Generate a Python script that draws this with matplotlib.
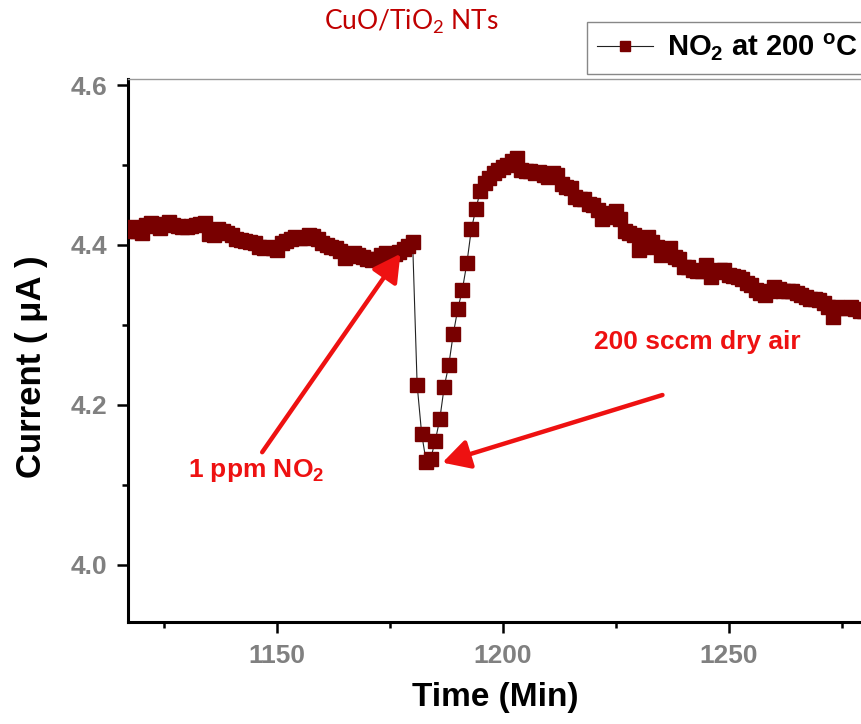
import matplotlib
matplotlib.use("Agg")
import matplotlib.pyplot as plt
from matplotlib.ticker import MultipleLocator

# ---------------- data ----------------
time_min = list(range(1117, 1281))
current_uA = [
    4.418, 4.423, 4.418, 4.415, 4.425, 4.427, 4.424, 4.421, 4.426, 4.429,   # 1117-1126
    4.425, 4.424, 4.423, 4.422, 4.424, 4.425, 4.426, 4.427, 4.414, 4.412,   # 1127-1136
    4.420, 4.418, 4.415, 4.412, 4.408, 4.406, 4.405, 4.404, 4.402, 4.398,   # 1137-1146
    4.396, 4.398, 4.396, 4.394, 4.403, 4.405, 4.407, 4.410, 4.409, 4.409,   # 1147-1156
    4.412, 4.411, 4.408, 4.402, 4.400, 4.398, 4.396, 4.392, 4.384, 4.386,   # 1157-1166
    4.390, 4.387, 4.385, 4.382, 4.381, 4.383, 4.388, 4.390, 4.388, 4.389,   # 1167-1176
    4.391, 4.395, 4.399, 4.404, 4.225, 4.164, 4.129, 4.133, 4.155, 4.182,   # 1177-1186
    4.223, 4.250, 4.289, 4.320, 4.344, 4.377, 4.420, 4.445, 4.468, 4.478,   # 1187-1196
    4.484, 4.490, 4.494, 4.497, 4.500, 4.505, 4.509, 4.494, 4.493, 4.493,   # 1197-1206
    4.490, 4.491, 4.487, 4.485, 4.490, 4.488, 4.476, 4.473, 4.471, 4.460,   # 1207-1216
    4.458, 4.457, 4.451, 4.450, 4.444, 4.433, 4.435, 4.440, 4.442, 4.433,   # 1217-1226
    4.417, 4.415, 4.413, 4.394, 4.398, 4.410, 4.404, 4.397, 4.388, 4.392,   # 1227-1236
    4.396, 4.385, 4.383, 4.373, 4.372, 4.369, 4.368, 4.367, 4.375, 4.360,   # 1237-1246
    4.366, 4.369, 4.369, 4.362, 4.361, 4.360, 4.358, 4.352, 4.350, 4.344,   # 1247-1256
    4.340, 4.338, 4.342, 4.348, 4.345, 4.342, 4.342, 4.342, 4.340, 4.338,   # 1257-1266
    4.335, 4.333, 4.332, 4.331, 4.327, 4.322, 4.310, 4.323, 4.321, 4.321,   # 1267-1276
    4.323, 4.320, 4.318, 4.318,                                             # 1277-1280
]

title_text = r"CuO/TiO$\mathregular{_2}$ NTs"
legend_label = r"NO$\mathregular{_2}$ at 200 $\mathregular{^o}$C"
xlabel_text = "Time (Min)"
ylabel_text = "Current ( \u03bcA )"
note_gas = r"1 ppm NO$\mathregular{_2}$"
note_air = "200 sccm dry air"

x_major = [1150, 1200, 1250]
y_major = [4.0, 4.2, 4.4, 4.6]

# ---------------- figure ----------------
W, H = 861, 724
fig = plt.figure(figsize=(W / 100, H / 100), dpi=100)
plt.rcParams['font.family'] = ['Liberation Sans', 'DejaVu Sans']

ax_left, ax_bottom = 128 / W, (H - 622) / H
ax_w, ax_h = 759 / W, (622 - 79) / H
ax = fig.add_axes([ax_left, ax_bottom, ax_w, ax_h])

marker_color = '#780000'
ax.plot(time_min, current_uA, color='#222222', lw=0.8, marker='s',
        markersize=9.6, markerfacecolor=marker_color, markeredgecolor=marker_color,
        label=legend_label, zorder=3)

ax.set_xlim(1117.0, 1285.0)
ax.set_ylim(3.92875, 4.6075)

ax.set_xticks(x_major)
ax.set_yticks(y_major)
ax.xaxis.set_minor_locator(MultipleLocator(25))
ax.yaxis.set_minor_locator(MultipleLocator(0.1))
ax.set_yticklabels([f"{v:.1f}" for v in y_major])

ax.tick_params(axis='both', which='major', direction='out', length=8, width=1.8,
               labelsize=19, labelcolor='#808080', color='black')
ax.tick_params(axis='x', which='major', pad=8)
ax.tick_params(axis='y', which='major', pad=7)
ax.tick_params(axis='both', which='minor', direction='out', length=4.5, width=1.8,
               color='black')
for lab in ax.get_xticklabels() + ax.get_yticklabels():
    lab.set_fontweight('bold')

for side in ['left', 'bottom']:
    ax.spines[side].set_linewidth(2.2)
    ax.spines[side].set_color('black')
ax.spines['top'].set_linewidth(1.0)
ax.spines['top'].set_color('#999999')
ax.spines['right'].set_visible(False)

ax.set_xlabel(xlabel_text, fontsize=24, fontweight='bold', color='black')
ax.xaxis.set_label_coords(0.4835, -0.11)
ax.xaxis.label.set_va('top')
ax.set_ylabel(ylabel_text, fontsize=25, fontweight='bold', color='black')
ax.yaxis.set_label_coords(-0.105, 0.47)

# title
fig.text(411 / W, 1 - 22 / H, title_text, fontsize=19, color='#C00000',
         family=['Lato', 'DejaVu Sans'], ha='center', va='center')

# legend (cut off at the right edge like the reference)
leg = ax.legend(loc='upper left', bbox_to_anchor=(587 / W, 1 - 22 / H),
                bbox_transform=fig.transFigure, borderaxespad=0,
                frameon=True, fancybox=False, framealpha=1, edgecolor='#888888',
                handlelength=1.9, handletextpad=0.5, borderpad=0.35,
                prop={'size': 21, 'weight': 'bold'}, markerscale=0.8)
leg.get_frame().set_linewidth(1.0)

# annotations
red = '#EE1111'
arrow_kw = dict(arrowstyle='-|>,head_length=0.55,head_width=0.3', color=red,
                lw=3.2, mutation_scale=30, shrinkA=0, shrinkB=0)
ax.annotate('', xy=(1177.3, 4.389), xytext=(1146.7, 4.141), arrowprops=arrow_kw,
            zorder=5)
ax.annotate('', xy=(1186.6, 4.128), xytext=(1235.3, 4.2125), arrowprops=arrow_kw,
            zorder=5)
ax.text(1145.4, 4.118, note_gas, color=red, fontsize=19, fontweight='bold',
        ha='center', va='center')
ax.text(1243.0, 4.279, note_air, color=red, fontsize=19, fontweight='bold',
        ha='center', va='center')

fig.savefig('out.png', dpi=100)
